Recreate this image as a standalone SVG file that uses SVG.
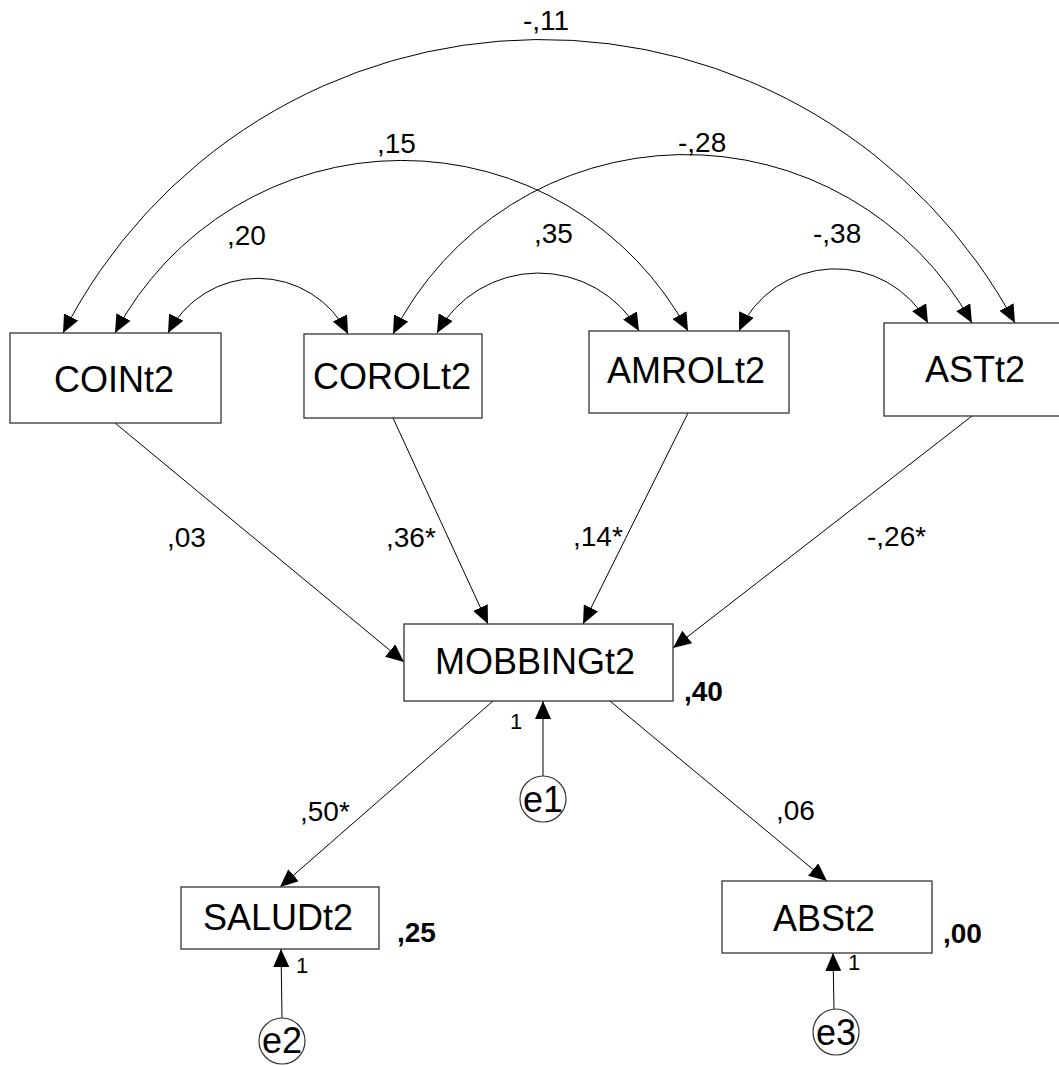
<svg xmlns="http://www.w3.org/2000/svg" width="1059" height="1066" viewBox="0 0 1059 1066">
<style>
text{font-family:"Liberation Sans",Arial,sans-serif;fill:#000}
.box{fill:#fff;stroke:#333;stroke-width:1.3}
.err{fill:#fff;stroke:#333;stroke-width:1.2}
.name{font-size:36px;text-anchor:middle}
.lbl{font-size:28px}
.r2{font-size:28px;font-weight:bold}
.one{font-size:22px}
.ln{fill:none;stroke:#000;stroke-width:1}
</style>
<defs>
<marker id="ah" markerUnits="userSpaceOnUse" markerWidth="18" markerHeight="16" viewBox="0 0 18 16" refX="18" refY="8" orient="auto-start-reverse">
<path d="M0,0 L18,8 L0,16 z" fill="#000"/>
</marker>
</defs>
<g id="connectors">
<path class="ln" d="M168,333 A101,101 0 0 1 348,334" marker-start="url(#ah)" marker-end="url(#ah)"/>
<path class="ln" d="M437,333 A116,116 0 0 1 639,331" marker-start="url(#ah)" marker-end="url(#ah)"/>
<path class="ln" d="M739,331 A106,106 0 0 1 928,323" marker-start="url(#ah)" marker-end="url(#ah)"/>
<path class="ln" d="M115,333 A325,325 0 0 1 688,331" marker-start="url(#ah)" marker-end="url(#ah)"/>
<path class="ln" d="M393,334 A328,328 0 0 1 972,323" marker-start="url(#ah)" marker-end="url(#ah)"/>
<path class="ln" d="M63,333 A537,537 0 0 1 1015,323" marker-start="url(#ah)" marker-end="url(#ah)"/>
<path class="ln" d="M115,423 L404,662" marker-end="url(#ah)"/>
<path class="ln" d="M393,418 L488,624" marker-end="url(#ah)"/>
<path class="ln" d="M688,413 L583,624" marker-end="url(#ah)"/>
<path class="ln" d="M972,416 L673,648" marker-end="url(#ah)"/>
<path class="ln" d="M493,701 L280,887" marker-end="url(#ah)"/>
<path class="ln" d="M610,701 L827,881" marker-end="url(#ah)"/>
<path class="ln" d="M543,776 L543,701" marker-end="url(#ah)"/>
<path class="ln" d="M282,1018 L281,949" marker-end="url(#ah)"/>
<path class="ln" d="M834,1010 L833,953" marker-end="url(#ah)"/>
<text class="lbl" x="523" y="30">-,11</text>
<text class="lbl" x="377" y="153">,15</text>
<text class="lbl" x="678" y="152">-,28</text>
<text class="lbl" x="227" y="245">,20</text>
<text class="lbl" x="534" y="243">,35</text>
<text class="lbl" x="813" y="243">-,38</text>
<text class="lbl" x="167" y="547">,03</text>
<text class="lbl" x="386" y="547">,36*</text>
<text class="lbl" x="573" y="546">,14*</text>
<text class="lbl" x="867" y="546">-,26*</text>
<text class="lbl" x="300" y="821">,50*</text>
<text class="lbl" x="776" y="820">,06</text>
<text class="one" x="510" y="729">1</text>
<text class="one" x="296" y="973">1</text>
<text class="one" x="848" y="970">1</text>
</g>
<g id="COINt2"><rect class="box" x="10" y="333" width="211" height="90"/><text class="name" x="114" y="392">COINt2</text></g>
<g id="COROLt2"><rect class="box" x="304" y="334" width="178" height="84"/><text class="name" x="392" y="389">COROLt2</text></g>
<g id="AMROLt2"><rect class="box" x="589" y="331" width="200" height="82"/><text class="name" x="686" y="383">AMROLt2</text></g>
<g id="ASTt2"><rect class="box" x="884" y="323" width="190" height="93"/><text class="name" x="975" y="382">ASTt2</text></g>
<g id="MOBBINGt2"><rect class="box" x="404" y="624" width="269" height="77"/><text class="name" x="535" y="674">MOBBINGt2</text><text class="r2" x="684" y="701">,40</text></g>
<g id="SALUDt2"><rect class="box" x="181" y="887" width="198" height="62"/><text class="name" x="278" y="930">SALUDt2</text><text class="r2" x="397" y="942">,25</text></g>
<g id="ABSt2"><rect class="box" x="722" y="881" width="210" height="72"/><text class="name" x="824" y="931">ABSt2</text><text class="r2" x="943" y="943">,00</text></g>
<g id="e1"><circle class="err" cx="543" cy="799" r="23"/><text class="name" x="543" y="812">e1</text></g>
<g id="e2"><circle class="err" cx="282" cy="1041" r="23"/><text class="name" x="282" y="1053">e2</text></g>
<g id="e3"><circle class="err" cx="836" cy="1032" r="23"/><text class="name" x="836" y="1045">e3</text></g>
</svg>
